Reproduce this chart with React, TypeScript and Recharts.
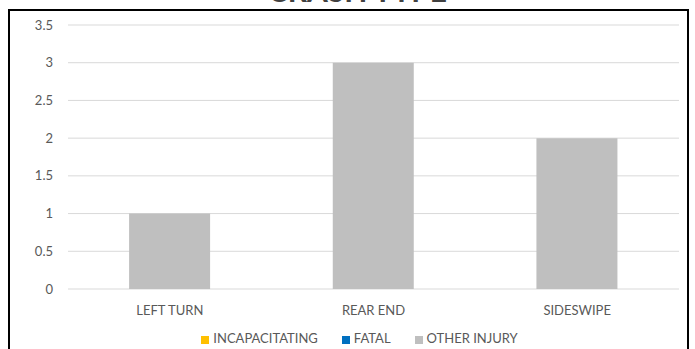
import React from "react";
import { BarChart, Bar, XAxis, YAxis, CartesianGrid, Legend } from "recharts";

// Crash counts by type
const crashTypes = ["LEFT TURN", "REAR END", "SIDESWIPE"];
const incapacitating = [0, 0, 0];
const fatal = [0, 0, 0];
const otherInjury = [1, 3, 2];
const yTicks = [0, 0.5, 1, 1.5, 2, 2.5, 3, 3.5];
const legendOrder = ["INCAPACITATING", "FATAL", "OTHER INJURY"];

const data = crashTypes.map((name, i) => ({
  name,
  incapacitating: incapacitating[i],
  fatal: fatal[i],
  other: otherInjury[i],
}));

const FONT = "Lato, 'Liberation Sans', sans-serif";

const App: React.FC = () => {
  return (
    <div
      style={{
        position: "fixed",
        left: 0,
        top: 0,
        width: 695,
        height: 349,
        overflow: "hidden",
        background: "#fff",
        fontFamily: FONT,
      }}
    >
      <div
        style={{
          position: "absolute",
          left: 8,
          top: 9,
          width: 681,
          height: 400,
          boxSizing: "border-box",
          border: "2px solid #000",
        }}
      />
      <div
        style={{
          position: "absolute",
          left: 265,
          width: 185,
          top: -25,
          textAlign: "center",
          fontSize: 30,
          fontWeight: 700,
          lineHeight: "30px",
          color: "#404040",
          whiteSpace: "nowrap",
        }}
      >
        CRASH TYPE
      </div>
      <div style={{ position: "absolute", left: 0, top: 0 }}>
        <BarChart
          width={695}
          height={349}
          data={data}
          margin={{ top: 25, right: 16, left: 0, bottom: 0 }}
          barCategoryGap="30%"
        >
          <CartesianGrid vertical={false} stroke="#D9D9D9" strokeWidth={1} />
          <XAxis
            dataKey="name"
            axisLine={false}
            tickLine={false}
            tickMargin={11}
            height={44}
            tick={{ fill: "#595959", fontSize: 13, fontFamily: FONT }}
          />
          <YAxis
            width={68}
            domain={[0, 3.5]}
            ticks={yTicks}
            axisLine={false}
            tickLine={false}
            tickMargin={9}
            tick={{ fill: "#595959", fontSize: 13, fontFamily: FONT }}
          />
          <Legend
            verticalAlign="bottom"
            align="center"
            iconType="square"
            iconSize={8}
            itemSorter={(item: any) => legendOrder.indexOf(item.value)}
            wrapperStyle={{ fontSize: 13, fontFamily: FONT, color: "#595959", paddingLeft: 32, bottom: 3 }}
            formatter={(value: string) => (
              <span style={{ color: "#595959", marginRight: 14 }}>{value}</span>
            )}
          />
          <Bar dataKey="incapacitating" name="INCAPACITATING" stackId="a" fill="#FFC000" isAnimationActive={false} />
          <Bar dataKey="fatal" name="FATAL" stackId="a" fill="#0070C0" isAnimationActive={false} />
          <Bar dataKey="other" name="OTHER INJURY" stackId="a" fill="#BFBFBF" isAnimationActive={false} />
        </BarChart>
      </div>
    </div>
  );
};

export default App;
